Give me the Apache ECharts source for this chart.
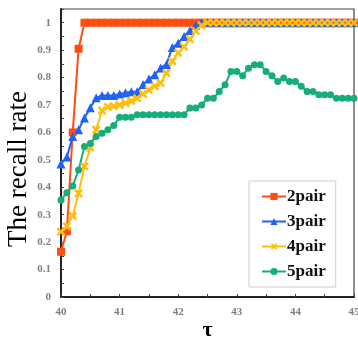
<!DOCTYPE html>
<html>
<head>
<meta charset="utf-8">
<script src="https://cdn.jsdelivr.net/npm/echarts@6/dist/echarts.min.js"></script>
<style>
  html, body { margin: 0; padding: 0; background: #fff; }
  #chart { width: 358px; height: 338px; }
</style>
</head>
<body>
<div id="chart"></div>
<script>
const tau = [
  40.0, 40.1, 40.2, 40.3, 40.4, 40.5, 40.6, 40.7, 40.8, 40.9,
  41.0, 41.1, 41.2, 41.3, 41.4, 41.5, 41.6, 41.7, 41.8, 41.9,
  42.0, 42.1, 42.2, 42.3, 42.4, 42.5, 42.6, 42.7, 42.8, 42.9,
  43.0, 43.1, 43.2, 43.3, 43.4, 43.5, 43.6, 43.7, 43.8, 43.9,
  44.0, 44.1, 44.2, 44.3, 44.4, 44.5, 44.6, 44.7, 44.8, 44.9,
  45.0
];
const pair2 = [
  0.165, 0.24, 0.6, 0.905, 1, 1, 1, 1, 1, 1,
  1, 1, 1, 1, 1, 1, 1, 1, 1, 1,
  1, 1, 1, 1, 1, 1, 1, 1, 1, 1,
  1, 1, 1, 1, 1, 1, 1, 1, 1, 1,
  1, 1, 1, 1, 1, 1, 1, 1, 1, 1,
  1
];
const pair3 = [
  0.485, 0.51, 0.585, 0.61, 0.653, 0.69, 0.726, 0.735, 0.735, 0.735,
  0.74, 0.745, 0.748, 0.748, 0.775, 0.795, 0.81, 0.835, 0.848, 0.91,
  0.925, 0.95, 0.972, 0.99, 1, 1, 1, 1, 1, 1,
  1, 1, 1, 1, 1, 1, 1, 1, 1, 1,
  1, 1, 1, 1, 1, 1, 1, 1, 1, 1,
  1
];
const pair4 = [
  0.238, 0.257, 0.296, 0.378, 0.476, 0.545, 0.61, 0.68, 0.693, 0.696,
  0.7, 0.707, 0.715, 0.725, 0.74, 0.755, 0.768, 0.78, 0.816, 0.86,
  0.89, 0.912, 0.94, 0.97, 0.99, 1, 1, 1, 1, 1,
  1, 1, 1, 1, 1, 1, 1, 1, 1, 1,
  1, 1, 1, 1, 1, 1, 1, 1, 1, 1,
  1
];
const pair5 = [
  0.354, 0.38, 0.405, 0.463, 0.549, 0.56, 0.585, 0.597, 0.61, 0.625,
  0.655, 0.655, 0.655, 0.664, 0.664, 0.664, 0.664, 0.664, 0.664, 0.664,
  0.664, 0.664, 0.689, 0.689, 0.7, 0.725, 0.725, 0.749, 0.774, 0.822,
  0.822, 0.807, 0.834, 0.847, 0.847, 0.822, 0.807, 0.786, 0.798, 0.786,
  0.786, 0.768, 0.749, 0.749, 0.737, 0.737, 0.737, 0.725, 0.725, 0.725,
  0.725
];
const seriesNames = ['2pair', '3pair', '4pair', '5pair'];

const serif = '"Liberation Serif", "DejaVu Serif", serif';
const xMark = 'path://M-1,-4 h2 v3 h3 v2 h-3 v3 h-2 v-3 h-3 v-2 h3 z';

function pairs(ys) {
  return tau.map((t, i) => [t, ys[i]]);
}

const chart = echarts.init(document.getElementById('chart'));

const option = {
  animation: false,
  grid: {
    left: 61,
    right: 4,
    top: 9,
    bottom: 41,
    outerBoundsMode: 'none',
    containLabel: false,
    show: true,
    borderColor: '#444',
    borderWidth: 1.2,
  },
  xAxis: {
    type: 'value',
    min: 40,
    max: 45,
    interval: 0.5,
    name: 'τ',
    nameLocation: 'middle',
    nameGap: 22,
    nameMoveOverlap: false,
    nameTextStyle: {
      fontFamily: serif,
      fontSize: 22,
      fontWeight: 'bold',
      color: '#000',
      verticalAlign: 'top',
    },
    axisLine: {
      show: true,
      onZero: false,
      lineStyle: {color: '#222', width: 2},
    },
    axisTick: {
      show: true,
      inside: true,
      length: 3,
      lineStyle: {color: '#444', width: 1},
    },
    axisLabel: {
      fontFamily: serif,
      fontSize: 11,
      fontWeight: 'bold',
      color: '#808080',
      margin: 10,
      formatter: (v) => (Math.round(v * 10) % 10 === 0 ? String(Math.round(v)) : ''),
    },
    splitLine: {show: false},
  },
  yAxis: {
    type: 'value',
    min: 0,
    max: 1.05,
    interval: 0.05,
    name: 'The recall rate',
    nameLocation: 'middle',
    nameGap: 29,
    nameMoveOverlap: false,
    nameTextStyle: {
      fontFamily: serif,
      fontSize: 27,
      color: '#000',
      padding: [0, 32, 0, 0],
    },
    axisLine: {
      show: true,
      lineStyle: {color: '#222', width: 2},
    },
    axisTick: {
      show: true,
      inside: true,
      length: 3,
      lineStyle: {color: '#444', width: 1},
    },
    axisLabel: {
      fontFamily: serif,
      fontSize: 11,
      fontWeight: 'bold',
      color: '#808080',
      margin: 10,
      formatter: (v) => {
        const k = Math.round(v * 100);
        if (k % 10 !== 0 || k > 100) return '';
        return k === 0 ? '0' : k === 100 ? '1' : (k / 100).toFixed(1);
      },
    },
    splitLine: {show: false},
  },
  legend: {
    orient: 'vertical',
    left: 249,
    top: 181,
    width: 88,
    padding: [7, 10, 7, 12],
    itemGap: 8,
    itemWidth: 24,
    itemHeight: 9,
    backgroundColor: '#fff',
    borderColor: '#ccc',
    borderWidth: 1,
    borderRadius: 0,
    textStyle: {
      fontFamily: serif,
      fontSize: 17,
      fontWeight: 'bold',
      color: '#111',
      padding: [0, 0, 0, -4],
    },
    data: seriesNames,
  },
  series: [
    {
      name: seriesNames[0],
      type: 'line',
      data: pairs(pair2),
      symbol: 'rect',
      symbolSize: 8,
      color: '#FF4E12',
      lineStyle: {width: 2},
    },
    {
      name: seriesNames[1],
      type: 'line',
      data: pairs(pair3),
      symbol: 'triangle',
      symbolSize: 9,
      color: '#1F63F5',
      lineStyle: {width: 2},
    },
    {
      name: seriesNames[2],
      type: 'line',
      data: pairs(pair4),
      symbol: xMark,
      symbolSize: 10,
      symbolRotate: 45,
      color: '#FFBE0F',
      lineStyle: {width: 2},
    },
    {
      name: seriesNames[3],
      type: 'line',
      data: pairs(pair5),
      symbol: 'circle',
      symbolSize: 7,
      color: '#16AD77',
      lineStyle: {width: 2},
    },
  ],
};

chart.setOption(option);
</script>
</body>
</html>
